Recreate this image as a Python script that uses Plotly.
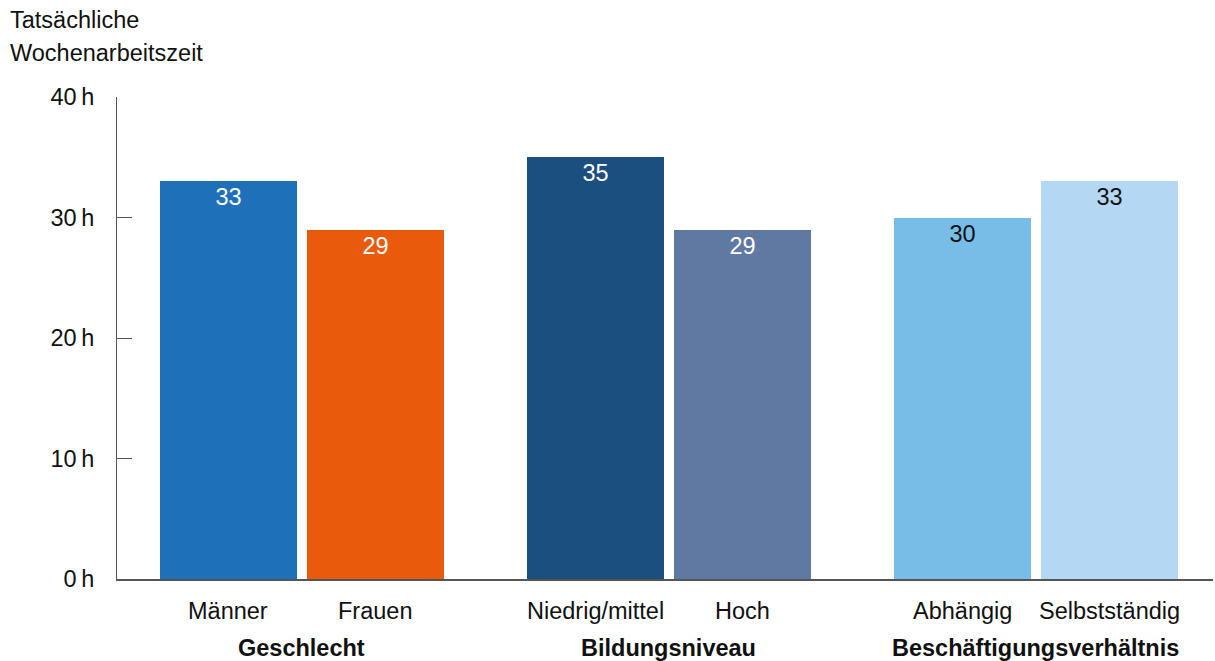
import plotly.graph_objects as go

categories = ["Männer", "Frauen", "Niedrig/mittel", "Hoch", "Abhängig", "Selbstständig"]
groups = ["Geschlecht", "Bildungsniveau", "Beschäftigungsverhältnis"]
group_of = [0, 0, 1, 1, 2, 2]
values = [33, 29, 35, 29, 30, 33]
colors = ["#1e71b8", "#e95a0c", "#1a4f80", "#5f79a3", "#78bde8", "#b4d8f3"]
label_colors = ["white", "white", "white", "white", "#111111", "#111111"]
y_ticks = [0, 10, 20, 30, 40]
y_tick_labels = ["0\u2009h", "10\u2009h", "20\u2009h", "30\u2009h", "40\u2009h"]
title_lines = ["Tatsächliche", "Wochenarbeitszeit"]

FONT = "Liberation Sans, Arial, sans-serif"
FS = 23.5

W, H = 1215, 661
ML, MR, MT, MB = 117, 2, 97, 82

# layout positions: pairs within groups, gap between groups
xpos = []
for i, g in enumerate(group_of):
    within = i - 2 * g
    xpos.append(g * 2.5 + within)

fig = go.Figure()
fig.add_trace(go.Bar(
    x=xpos, y=values, width=0.933,
    marker=dict(color=colors, line=dict(width=0)),
    text=[str(v) for v in values],
    textposition="inside", insidetextanchor="end",
    textfont=dict(family=FONT, size=FS, color=label_colors),
    textangle=0,
    hoverinfo="skip",
))

annotations = []
for x, c in zip(xpos, categories):
    annotations.append(dict(x=x, y=0, xref="x", yref="paper", text=c, showarrow=False,
                            yanchor="middle", yshift=-32,
                            font=dict(family=FONT, size=FS, color="#111111")))
for gi, gname in enumerate(groups):
    gx = [xpos[i] for i in range(len(xpos)) if group_of[i] == gi]
    annotations.append(dict(x=sum(gx) / len(gx), y=0, xref="x", yref="paper",
                            text="<b>" + gname + "</b>", showarrow=False,
                            yanchor="middle", yshift=-69,
                            font=dict(family=FONT, size=FS, color="#111111")))
for k, line in enumerate(title_lines):
    annotations.append(dict(x=0, y=1, xref="paper", yref="paper",
                            text=line, showarrow=False, xanchor="left", yanchor="middle",
                            xshift=8 - ML, yshift=MT - (20 + 33 * k),
                            font=dict(family=FONT, size=FS, color="#111111")))

fig.update_layout(
    width=W, height=H,
    margin=dict(l=ML, r=MR, t=MT, b=MB, pad=0),
    plot_bgcolor="white", paper_bgcolor="white",
    showlegend=False,
    bargap=0,
    font=dict(family=FONT, size=FS, color="#111111"),
    xaxis=dict(range=[-0.758, 6.706], showgrid=False, zeroline=False,
               showline=True, linecolor="#555555", linewidth=1.5,
               showticklabels=False, ticks=""),
    yaxis=dict(range=[0, 40], tickvals=y_ticks, ticktext=y_tick_labels,
               showgrid=False, zeroline=False, showline=True, linecolor="#555555",
               linewidth=1, ticks="inside", ticklen=15, tickcolor="#555555",
               ticklabelstandoff=17,
               tickfont=dict(family=FONT, size=FS, color="#111111")),
    annotations=annotations,
)

fig.write_html("out.html", config={"displayModeBar": False},
               post_script="document.body.style.margin='0';")
